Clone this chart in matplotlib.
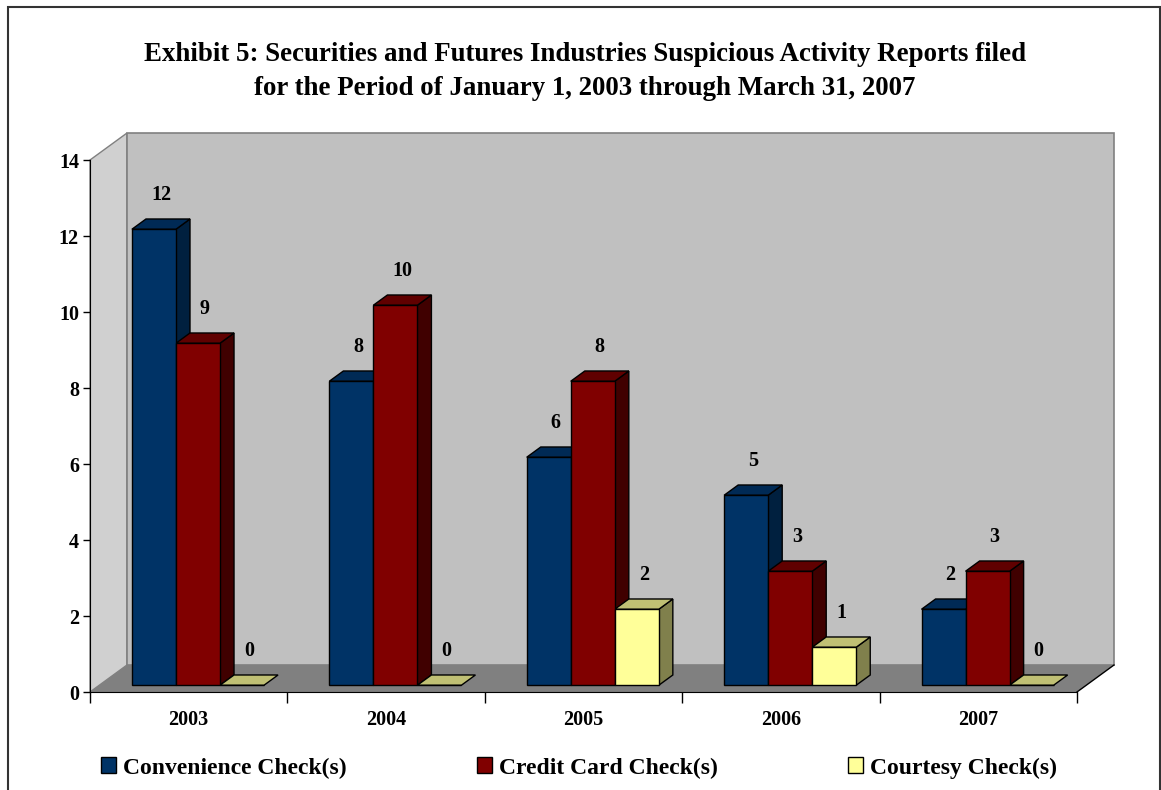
import matplotlib.pyplot as plt
from matplotlib.patches import Polygon, Patch, Rectangle
from matplotlib.lines import Line2D

plt.rcParams['font.family'] = ['Liberation Serif', 'DejaVu Serif']
plt.rcParams['font.weight'] = 'bold'

years = ['2003', '2004', '2005', '2006', '2007']
convenience = [12, 8, 6, 5, 2]
credit_card = [9, 10, 8, 3, 3]
courtesy = [0, 0, 2, 1, 0]

series = [
    ('Convenience Check(s)', convenience, '#003366', '#00203f', '#002a55'),
    ('Credit Card Check(s)', credit_card, '#800000', '#400000', '#600000'),
    ('Courtesy Check(s)', courtesy, '#ffff99', '#80804c', '#c0c074'),
]

W, H = 1161, 790
fig = plt.figure(figsize=(W / 100, H / 100), dpi=100)
ax = fig.add_axes([90 / W, 1 - 692 / H, (1077 - 90) / W, (692 - 160) / H])
ax.set_xlim(0, 5)
ax.set_ylim(0, 14)

# depth vector of the box (data units)
DX = 37 / 197.4
DY = 27 / 38.0
z0, z1 = 0.25, 0.63   # bar front/back depth fraction
bw = 0.223

# walls and floor
ax.add_patch(Polygon([(0, 0), (DX, DY), (DX, 14 + DY), (0, 14)], closed=True,
                     facecolor='#d0d0d0', edgecolor='#808080', lw=1, clip_on=False, zorder=0))
ax.add_patch(Polygon([(DX, DY), (5 + DX, DY), (5 + DX, 14 + DY), (DX, 14 + DY)], closed=True,
                     facecolor='#c0c0c0', edgecolor='#808080', lw=1.2, clip_on=False, zorder=0))
ax.add_patch(Polygon([(0, 0), (5, 0), (5 + DX, DY), (DX, DY)], closed=True,
                     facecolor='#808080', edgecolor='none', clip_on=False, zorder=0.5))
ax.add_line(Line2D([5, 5 + DX], [0, DY], color='black', lw=1, clip_on=False, zorder=0.6))

x_idx = list(range(len(years)))
for s, (name, vals, front, side, top) in enumerate(series):
    xs = [i + 0.5 + (s - 1) * bw + z0 * DX for i in x_idx]
    ax.bar(xs, vals, width=bw, bottom=z0 * DY, color=front, edgecolor='black',
           linewidth=1, clip_on=False, zorder=3, label=name)
    ddx = (z1 - z0) * DX
    ddy = (z1 - z0) * DY
    for x, v in zip(xs, vals):
        xl, xr = x - bw / 2, x + bw / 2
        y0, y1 = z0 * DY, v + z0 * DY
        if v > 0:
            ax.add_patch(Polygon([(xr, y0), (xr + ddx, y0 + ddy), (xr + ddx, y1 + ddy), (xr, y1)],
                                 closed=True, facecolor=side, edgecolor='black', lw=1,
                                 clip_on=False, zorder=2))
        ax.add_patch(Polygon([(xl, y1), (xr, y1), (xr + ddx, y1 + ddy), (xl + ddx, y1 + ddy)],
                             closed=True, facecolor=top, edgecolor='black', lw=1,
                             clip_on=False, zorder=2))
        ax.text(x + ddx * 0.5, y1 + ddy + 0.62, str(v), ha='center', va='center',
                fontsize=14.5, fontweight='bold', zorder=5)

# axes styling
for sp in ['top', 'right']:
    ax.spines[sp].set_visible(False)
ax.spines['left'].set_color('black')
ax.spines['bottom'].set_color('black')
ax.spines['left'].set_zorder(4)
ax.spines['bottom'].set_zorder(4)
ax.patch.set_visible(False)
ax.set_yticks(range(0, 15, 2))
ax.tick_params(axis='y', length=5, width=1, pad=3, labelsize=14.5)
ax.set_xticks(range(6))
ax.set_xticklabels([])
ax.tick_params(axis='x', which='major', length=8, width=1, direction='out')
ax.set_xticks([i + 0.5 for i in x_idx], minor=True)
ax.set_xticklabels(years, minor=True)
ax.tick_params(axis='x', which='minor', length=0, pad=13, labelsize=14.5)
for lab in ax.get_xticklabels(minor=True) + ax.get_yticklabels():
    lab.set_fontweight('bold')

fig.text(585 / W, 1 - 71.5 / H,
         'Exhibit 5: Securities and Futures Industries Suspicious Activity Reports filed\n'
         'for the Period of January 1, 2003 through March 31, 2007',
         ha='center', va='center', fontsize=19.4, fontweight='bold', linespacing=1.47)

handles = [Patch(facecolor=c, edgecolor='black', label=n) for n, _, c, _, _ in series]
fig.legend(handles=handles, loc='center', bbox_to_anchor=(579 / W, 1 - 768 / H), ncol=3,
           frameon=False, handlelength=0.65, handleheight=0.65,
           handletextpad=0.3, columnspacing=5.5, prop={'weight': 'bold', 'size': 17})

# outer border
fig.add_artist(Rectangle((8 / W, -0.05), (1160 - 8) / W, 1.05 - 7 / H,
                         transform=fig.transFigure, fill=False, edgecolor='#333333', lw=1.5))

fig.savefig('out.png', dpi=100)
